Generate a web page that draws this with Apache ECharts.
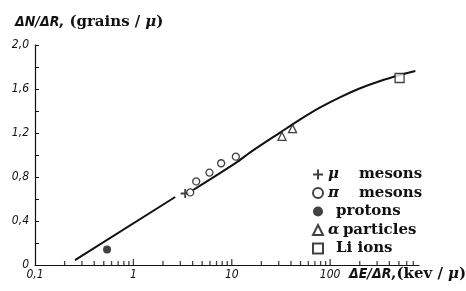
<!DOCTYPE html>
<html>
<head>
<meta charset="utf-8">
<script src="https://cdn.jsdelivr.net/npm/echarts@6/dist/echarts.min.js"></script>
<style>
  html, body { margin: 0; padding: 0; background: #fff; }
  #chart { width: 466px; height: 291px; }
</style>
</head>
<body>
<div id="chart"></div>
<script>
// tick labels
var xLabelValues = [0.1, 1, 10, 100];
var xMajorTicks = [1, 10, 100];
var xMinorTicks = [0.2, 0.3, 0.4, 0.5, 0.6, 0.7, 0.8, 0.9,
  2, 3, 4, 5, 6, 7, 8, 9, 20, 30, 40, 50, 60, 70, 80, 90,
  200, 300, 400, 500, 600, 700];

// measured points [dE/dR, dN/dR]
var muMesons = [[3.36, 0.65]];
var piMesons = [[3.78, 0.66], [4.35, 0.76], [5.93, 0.84], [7.8, 0.925], [11.0, 0.985]];
var protons = [[0.54, 0.14]];
var alphas = [[32.4, 1.17], [41.5, 1.24]];
var liIons = [[508, 1.70]];

// fitted curve, drawn in two pieces (gap at the mu point)
var curveLow = [[0.255, 0.045], [2.66, 0.618]];
var curveHigh = [[4.05, 0.682], [11.1, 0.931], [15.4, 1.024], [31.0, 1.204], [49.7, 1.324],
  [79.3, 1.433], [127, 1.527], [202, 1.607], [323, 1.673], [516, 1.727], [734, 1.763]];

var legendNames = {
  'mu': '{g|μ}{w|}{t|mesons}',
  'pi': '{g|π}{w|}{t|mesons}',
  'p': '{n|}{t|protons}',
  'a': '{g|α} {t|particles}',
  'li': '{n|}{t|Li ions}'
};

var chart = echarts.init(document.getElementById('chart'));

var tickFont = { fontFamily: 'DejaVu Sans Condensed', fontStyle: 'italic', fontSize: 12, color: '#111' };
var serif = { fontFamily: 'DejaVu Serif', fontWeight: 'bold', fontSize: 15, color: '#111' };
var greek = { fontFamily: 'DejaVu Serif', fontStyle: 'italic', fontWeight: 'bold', fontSize: 15, color: '#111' };
var slanted = { fontFamily: 'DejaVu Sans Condensed', fontStyle: 'italic', fontSize: 14, color: '#111' };

function pointSeries(name, data, symbol, size, fill) {
  return {
    name: name,
    type: 'scatter',
    data: data,
    symbol: symbol,
    symbolSize: size,
    itemStyle: { color: fill, borderColor: '#111', borderWidth: fill === '#111' ? 0 : 1.3 },
    z: 5
  };
}

function tickSeries(data, len) {
  return {
    type: 'scatter',
    data: data.map(function (v) { return [v, 0]; }),
    symbol: 'rect',
    symbolSize: [1.3, len],
    symbolOffset: [0, -len / 2],
    itemStyle: { color: '#111' },
    silent: true,
    clip: false,
    z: 6
  };
}

chart.setOption({
  animation: false,
  backgroundColor: '#fff',
  grid: { left: 35, right: 47, top: 45, bottom: 26 },
  title: [
    {
      left: 10, top: 8,
      text: '{i|ΔN/ΔR,} {s|(grains /} {g|μ}{s|)}',
      textStyle: { rich: { i: slanted, s: serif, g: greek } }
    },
    {
      left: 344, top: 260,
      text: '{i|ΔE/ΔR,}{s|(kev /} {g|μ}{s|)}',
      textStyle: { rich: { i: slanted, s: serif, g: greek } }
    }
  ],
  legend: {
    orient: 'vertical',
    left: 307, top: 162,
    itemWidth: 10, itemHeight: 10,
    itemGap: 3.5,
    data: ['mu', 'pi', 'p', 'a', 'li'],
    formatter: function (name) { return legendNames[name]; },
    textStyle: {
      rich: {
        t: serif,
        g: greek,
        w: { width: 20 },
        n: { width: 8 }
      }
    }
  },
  xAxis: {
    type: 'log',
    logBase: 10,
    min: 0.1,
    max: 800,
    axisLine: { lineStyle: { color: '#111', width: 1.2 } },
    axisTick: { show: false },
    axisLabel: Object.assign({ customValues: xLabelValues, margin: 4,
      formatter: function (v) { return String(v).replace('.', ','); } }, tickFont),
    splitLine: { show: false }
  },
  yAxis: {
    type: 'value',
    min: 0,
    max: 2.0,
    interval: 0.2,
    axisLine: { show: true, lineStyle: { color: '#111', width: 1.2 } },
    axisTick: { show: true, inside: true, length: 4, lineStyle: { color: '#111' } },
    axisLabel: Object.assign({ margin: 6,
      formatter: function (v) {
        var k = Math.round(v * 10);
        if (k % 4 !== 0) return '';
        return k === 0 ? '0' : v.toFixed(1).replace('.', ',');
      } }, tickFont),
    splitLine: { show: false }
  },
  series: [
    tickSeries(xMinorTicks, 4),
    tickSeries(xMajorTicks, 6),
    { type: 'line', data: curveLow, showSymbol: false, symbol: 'none', lineStyle: { color: '#111', width: 2 } },
    { type: 'line', data: curveHigh, smooth: 0.3, showSymbol: false, symbol: 'none', lineStyle: { color: '#111', width: 2 } },
    pointSeries('mu', muMesons, 'path://M4,0H6V4H10V6H6V10H4V6H0V4H4Z', 9, '#111'),
    pointSeries('pi', piMesons, 'circle', 7, '#fff'),
    pointSeries('p', protons, 'circle', 8, '#111'),
    pointSeries('a', alphas, 'triangle', 8, '#fff'),
    pointSeries('li', liIons, 'rect', 9, '#fff')
  ]
});
</script>
</body>
</html>
